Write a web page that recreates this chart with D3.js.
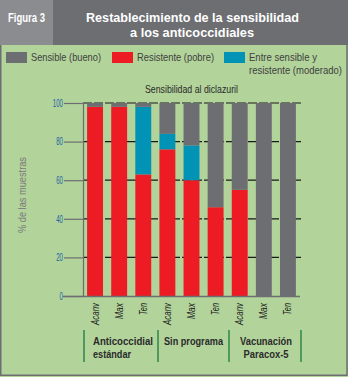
<!DOCTYPE html>
<html><head><meta charset="utf-8">
<script src="https://cdn.jsdelivr.net/npm/d3@7"></script>
<style>
html,body{margin:0;padding:0;background:#fff;}
svg{display:block;}
text{font-family:"Liberation Sans",Arial,sans-serif;}
</style></head>
<body>
<script>
// ---- data ----
const categories = ["Acanv","Max","Ten","Acanv","Max","Ten","Acanv","Max","Ten"];
const resistente = [98, 98, 63, 76, 60, 46, 55, 0, 0];
const moderado   = [0, 0, 35, 8, 18, 0, 0, 0, 0];
const sensible   = [2, 2, 2, 16, 22, 54, 45, 100, 100];
const groups = [["Anticoccidial","estándar"],["Sin programa"],["Vacunación","Paracox-5"]];
const groupSizes = [3,3,3];
const yTicks = [0,20,40,60,80,100];
const seriesNames = ["Sensible (bueno)","Resistente (pobre)","Entre sensible y|resistente (moderado)"];

const W=348,H=377;
const C={green:"#b2d39a",grey:"#6d6e72",red:"#ed1c24",blue:"#0093b5",light:"#8b8c90"};

// helper to fit text width (condensed look)
function fit(sel,len){return sel.attr("textLength",len).attr("lengthAdjust","spacingAndGlyphs");}

const svg=d3.select("body").append("svg").attr("width",W).attr("height",H);
svg.append("rect").attr("width",W).attr("height",H).attr("fill",C.green);
svg.append("rect").attr("x",0.75).attr("y",0).attr("width",W-1.75).attr("height",H-1.75)
  .attr("fill","none").attr("stroke",C.grey).attr("stroke-width",1.5);
// title bar
svg.append("rect").attr("x",0).attr("y",0).attr("width",W).attr("height",45).attr("fill",C.grey);
svg.append("rect").attr("x",0).attr("y",0).attr("width",53).attr("height",45).attr("fill",C.light);
fit(svg.append("text").attr("x",8).attr("y",22).attr("fill","#fff")
  .attr("font-weight","bold").attr("font-size",12.5).text("Figura 3"),37);
fit(svg.append("text").attr("x",86).attr("y",22).attr("fill","#fff")
  .attr("font-weight","bold").attr("font-size",13).text("Restablecimiento de la sensibilidad"),213);
fit(svg.append("text").attr("x",130).attr("y",36.5).attr("fill","#fff")
  .attr("font-weight","bold").attr("font-size",13).text("a los anticoccidiales"),124);

// legend
const legColors=[C.grey,C.red,C.blue];
const legX=[6,112,224];
const legLens=[[70],[77],[68,93]];
seriesNames.forEach((n,i)=>{
  svg.append("rect").attr("x",legX[i]).attr("y",52).attr("width",21).attr("height",11).attr("fill",legColors[i]);
  n.split("|").forEach((l,j)=>fit(svg.append("text").attr("x",legX[i]+25).attr("y",61+j*12.5)
    .attr("fill","#3f3f3f").attr("font-size",11.5).text(l),legLens[i][j]));
});

// plot
const x0=83,x1=300,yTop=103,yBot=296;
const x=d3.scaleBand().domain(d3.range(categories.length)).range([x0,x1]).paddingInner(0.34).paddingOuter(0.17);
const y=d3.scaleLinear().domain([0,100]).range([yBot,yTop]);

fit(svg.append("text").attr("x",145).attr("y",93).attr("fill","#2a2a2a").attr("font-size",11.5)
  .text("Sensibilidad al diclazuril"),93);

// y axis title
fit(svg.append("text").attr("transform",`translate(26,195) rotate(-90)`).attr("text-anchor","middle")
  .attr("fill","#7a7a7a").attr("font-size",11.5).text("% de las muestras"),76);

// grid
yTicks.filter(d=>d>0).forEach(d=>{
  svg.append("line").attr("x1",x0).attr("x2",x1+1).attr("y1",y(d)).attr("y2",y(d))
    .attr("stroke","#1a1a1a").attr("stroke-width",1.2).attr("stroke-dasharray","9,2");
});
// y axis
const ya=svg.append("g").attr("transform",`translate(${x0},0)`)
  .call(d3.axisLeft(y).tickValues(yTicks).tickSize(19).tickPadding(1));
ya.select(".domain").attr("stroke",C.grey).attr("stroke-width",1.2);
ya.selectAll(".tick line").attr("stroke",C.grey).attr("stroke-width",1.2);
ya.selectAll(".tick text").attr("fill","#1f5fa8").attr("font-size",10)
  .style("font-family","'Liberation Sans',sans-serif")
  .attr("textLength",d=>String(d).length*3.4).attr("lengthAdjust","spacingAndGlyphs");

// stacks
const stackData=categories.map((c,i)=>({i,res:resistente[i],mod:moderado[i],sen:sensible[i]}));
const stack=d3.stack().keys(["res","mod","sen"])(stackData);
const colMap={res:C.red,mod:C.blue,sen:C.grey};
svg.append("g").selectAll("g").data(stack).join("g").attr("fill",d=>colMap[d.key])
  .selectAll("rect").data(d=>d).join("rect")
  .attr("x",d=>x(d.data.i)).attr("width",x.bandwidth())
  .attr("y",d=>y(d[1])).attr("height",d=>Math.max(0,y(d[0])-y(d[1])));

// x axis line
svg.append("line").attr("x1",63).attr("x2",x1).attr("y1",yBot+0.5).attr("y2",yBot+0.5)
  .attr("stroke",C.grey).attr("stroke-width",1.3);

// x labels
const labLen={Acanv:22,Max:16,Ten:12};
categories.forEach((c,i)=>{
  const cx=x(i)+x.bandwidth()/2+3.5;
  fit(svg.append("text").attr("transform",`translate(${cx},303) rotate(-90)`)
    .attr("text-anchor","end").attr("font-style","italic").attr("font-size",10).attr("fill","#222").text(c),labLen[c]);
});

// group separators & labels
const seps=[x0+1,158,229,x1+1];
seps.forEach(sx=>svg.append("line").attr("x1",sx).attr("x2",sx).attr("y1",330).attr("y2",362)
  .attr("stroke","#1c7a3c").attr("stroke-width",1.3));
const glab=[{x:93,a:"start",l:[60,38]},{x:164,a:"start",l:[59]},{x:266,a:"middle",l:[52,45]}];
groups.forEach((g,gi)=>{
  g.forEach((l,j)=>fit(svg.append("text").attr("x",glab[gi].x).attr("y",345+j*13).attr("text-anchor",glab[gi].a)
    .attr("fill","#2b2b2b").attr("font-weight","bold").attr("font-size",11.5).text(l),glab[gi].l[j]));
});
</script>
</body></html>
